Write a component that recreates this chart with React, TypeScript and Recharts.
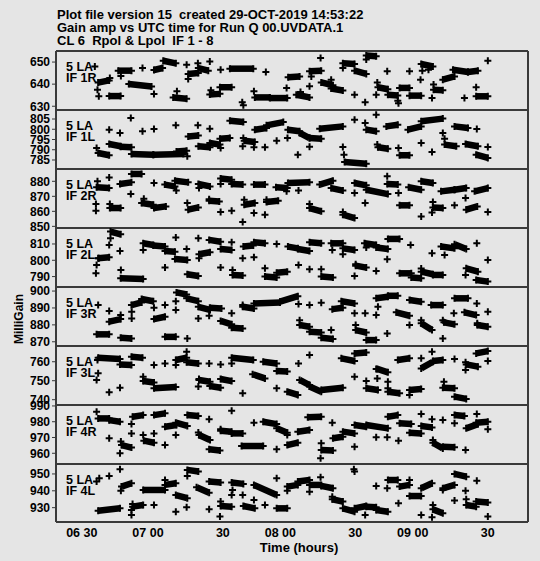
import React from "react"
import { ComposedChart, Line, Scatter, XAxis, YAxis } from "recharts"

// time axis in minutes after 06:00 UTC
const timeTicks = [30, 60, 90, 120, 150, 180, 210]
const timeLabels = ["06 30", "07 00", "30", "08 00", "30", "09 00", "30"]
const antenna = "5 LA"
const titleLines = [
  "Plot file version 15  created 29-OCT-2019 14:53:22",
  "Gain amp vs UTC time for Run Q 00.UVDATA.1",
  "CL 6  Rpol & Lpol  IF 1 - 8",
]

// scans: [tStart, vStart, tEnd, vEnd]; pts: [t, v]
const scans1R = [
  [32.6, 640.7, 37.6, 641.7], [37.6, 634.6, 42.8, 634.6], [41.7, 646.1, 47.7, 646.1],
  [46.5, 640.1, 56.8, 638.9], [57.9, 646.4, 61.8, 647.3], [62.1, 650.6, 67.8, 649.4],
  [66.6, 634.0, 72.7, 633.4], [73.4, 644.6, 78.0, 645.0], [78.0, 647.3, 82.5, 646.1],
  [83.2, 635.3, 87.8, 635.6], [87.8, 638.6, 93.1, 638.6], [92.3, 647.0, 102.9, 647.0],
  [103.6, 634.0, 110.4, 634.0], [110.4, 633.7, 118.3, 633.7], [118.7, 643.1, 123.9, 643.5],
  [122.4, 635.2, 128.4, 634.0], [128.4, 645.8, 133.7, 646.1], [133.7, 640.8, 139.0, 639.5],
  [138.2, 638.0, 143.5, 637.1], [143.5, 649.5, 148.8, 649.1], [148.8, 646.1, 154.1, 644.6],
  [154.1, 653.0, 158.6, 652.6], [159.4, 638.6, 163.9, 637.7], [163.9, 635.2, 168.4, 634.9],
  [169.2, 638.3, 173.7, 638.3], [173.7, 634.8, 179.0, 634.8], [179.0, 649.1, 184.3, 648.0],
  [184.6, 637.5, 188.8, 637.2], [188.8, 642.0, 194.1, 643.5], [193.4, 646.5, 200.2, 645.5],
  [200.2, 645.5, 204.7, 646.1], [203.9, 634.5, 209.2, 634.5],
]
const pts1R = [
  [31.1, 648.0], [37.9, 642.8], [32.3, 637.5], [32.9, 634.5], [42.9, 643.7], [52.7, 647.3],
  [57.9, 635.5], [68.3, 636.8], [72.7, 648.8], [73.4, 642.3], [77.8, 649.5], [83.2, 650.3],
  [83.7, 637.2], [88.1, 646.5], [97.9, 631.8], [98.4, 630.4], [103.2, 636.8], [108.6, 645.5],
  [118.0, 638.3], [124.3, 636.5], [128.4, 639.0], [129.2, 643.5], [133.4, 651.8], [138.2, 642.0],
  [143.5, 647.3], [148.8, 635.2], [153.6, 631.8], [154.1, 651.1], [159.1, 640.8], [158.6, 635.2],
  [163.6, 645.8], [168.4, 632.5], [168.7, 631.3], [173.7, 645.8], [178.7, 642.0], [179.5, 646.1],
  [182.3, 646.5], [183.9, 633.7], [184.6, 639.8], [198.6, 633.7], [203.9, 638.6], [209.2, 650.6],
]

const scans1L = [
  [32.6, 788.4, 37.6, 787.3], [37.6, 792.8, 42.8, 791.7], [42.8, 791.5, 47.7, 791.2],
  [47.7, 787.9, 57.6, 787.6], [57.6, 787.6, 71.2, 787.9], [68.1, 789.2, 72.7, 789.5],
  [73.4, 796.5, 78.0, 797.0], [78.0, 791.7, 83.3, 791.2], [83.2, 793.3, 87.8, 792.5],
  [87.8, 795.4, 92.3, 795.7], [92.3, 804.2, 98.4, 803.5], [98.8, 794.4, 103.6, 793.8],
  [103.6, 799.8, 108.9, 800.6], [108.9, 801.9, 116.5, 803.5], [118.6, 799.8, 123.9, 799.0],
  [123.9, 798.2, 128.4, 795.7], [128.4, 795.7, 133.7, 795.4], [133.0, 800.3, 143.5, 801.4],
  [144.3, 784.0, 154.1, 783.2], [154.1, 799.8, 158.6, 799.0], [159.4, 791.2, 163.9, 790.5],
  [163.2, 801.4, 168.4, 802.2], [169.2, 787.3, 173.7, 787.3], [173.0, 799.8, 179.0, 801.4],
  [179.0, 803.9, 188.8, 805.2], [189.6, 792.5, 194.9, 791.7], [194.1, 801.4, 200.2, 800.6],
  [199.1, 792.8, 204.7, 791.7], [203.9, 787.6, 209.2, 786.0],
]
const pts1L = [
  [31.9, 790.9], [37.6, 799.8], [42.5, 798.2], [47.4, 805.5], [52.7, 799.0], [57.9, 800.1],
  [67.8, 801.9], [73.0, 786.8], [77.8, 801.9], [83.2, 800.3], [88.1, 790.9], [98.4, 795.7],
  [98.1, 791.7], [103.2, 791.2], [108.2, 791.2], [113.5, 794.4], [118.4, 795.7], [123.1, 787.6],
  [128.4, 791.5], [143.5, 791.3], [144.0, 787.6], [148.8, 804.7], [153.6, 803.0], [158.6, 807.1],
  [159.1, 792.5], [168.7, 790.9], [179.0, 793.3], [183.9, 788.9], [188.8, 798.2], [189.6, 795.4],
  [204.2, 800.1], [209.2, 791.3],
]

const scans2R = [
  [31.9, 876.0, 37.6, 875.5], [37.9, 862.2, 42.8, 862.2], [42.5, 878.2, 47.7, 879.3],
  [47.7, 884.9, 52.3, 884.9], [52.3, 865.5, 57.6, 864.4], [57.9, 862.2, 63.3, 863.3],
  [62.8, 877.8, 67.4, 876.6], [67.4, 880.4, 73.4, 879.3], [73.4, 861.1, 78.0, 862.6],
  [78.0, 878.2, 83.3, 876.6], [82.9, 867.1, 87.5, 866.6], [88.1, 881.8, 93.1, 881.1],
  [93.1, 878.2, 98.1, 877.8], [98.8, 864.4, 103.6, 865.5], [103.2, 877.8, 108.2, 877.8],
  [108.9, 866.2, 114.2, 867.1], [113.2, 876.0, 118.3, 875.5], [118.6, 878.9, 128.4, 879.3],
  [128.4, 862.2, 133.7, 860.0], [133.0, 877.8, 139.0, 880.4], [138.2, 875.5, 143.5, 873.8],
  [143.5, 857.8, 148.8, 855.5], [148.8, 878.9, 154.1, 877.3], [154.1, 874.4, 163.9, 871.5],
  [163.6, 878.2, 168.4, 877.8], [169.2, 864.0, 173.7, 864.0], [173.3, 876.0, 179.0, 874.4],
  [179.0, 880.0, 184.3, 878.9], [184.3, 862.6, 188.8, 862.2], [188.0, 873.3, 194.1, 874.4],
  [194.1, 874.4, 199.4, 875.5], [199.4, 861.1, 204.4, 863.3], [203.2, 873.3, 209.2, 875.5],
]
const pts2R = [
  [32.3, 880.0], [37.6, 882.6], [31.6, 864.9], [31.6, 860.4], [37.9, 864.9], [47.4, 871.5],
  [53.3, 868.4], [57.9, 878.9], [68.0, 873.8], [73.0, 865.5], [78.3, 875.5], [82.9, 868.0],
  [88.1, 859.5], [93.1, 860.4], [88.1, 878.2], [98.8, 867.8], [98.1, 852.9], [103.2, 858.9],
  [108.2, 857.8], [108.9, 867.8], [118.0, 873.3], [123.4, 873.8], [128.4, 864.9], [143.5, 859.5],
  [148.8, 872.2], [153.6, 865.5], [163.6, 883.3], [168.7, 872.2], [179.0, 856.6], [184.3, 866.2],
  [183.9, 859.3], [194.1, 864.0], [199.1, 868.9], [209.2, 859.5],
]

const scans2L = [
  [32.6, 801.2, 37.6, 801.8], [38.2, 817.6, 42.8, 815.9], [42.8, 788.9, 53.0, 788.5],
  [53.0, 810.4, 57.6, 809.4], [57.6, 809.0, 62.9, 808.4], [62.9, 805.7, 67.4, 805.3],
  [67.4, 800.8, 73.0, 800.2], [73.0, 791.4, 78.0, 790.4], [78.3, 803.7, 83.3, 804.9],
  [82.9, 812.5, 88.1, 811.4], [88.1, 806.9, 93.1, 806.3], [93.5, 791.0, 98.1, 790.6],
  [98.4, 808.4, 102.9, 809.0], [103.2, 811.0, 108.2, 810.4], [108.2, 790.0, 113.5, 789.4],
  [113.5, 792.4, 118.3, 793.0], [118.6, 808.4, 123.1, 807.3], [123.1, 806.9, 128.4, 805.7],
  [128.4, 811.0, 133.7, 810.4], [133.7, 790.0, 139.0, 789.4], [138.2, 810.4, 143.5, 810.4],
  [143.5, 807.3, 148.8, 806.3], [149.3, 796.7, 154.1, 795.5], [153.3, 810.4, 158.6, 809.4],
  [158.6, 807.8, 163.9, 806.9], [163.9, 813.1, 169.2, 813.1], [169.2, 792.0, 174.5, 792.0],
  [174.5, 789.4, 179.0, 788.9], [179.0, 793.0, 184.3, 791.4], [184.3, 791.0, 188.8, 791.0],
  [188.0, 808.4, 194.1, 807.3], [194.1, 809.8, 199.4, 806.9], [199.4, 795.1, 204.7, 793.0],
  [203.9, 787.9, 209.2, 786.9],
]
const pts2L = [
  [31.6, 792.0], [31.9, 797.1], [32.9, 801.2], [37.6, 809.4], [38.2, 813.5], [42.5, 805.7],
  [42.9, 794.0], [53.0, 806.3], [62.9, 795.5], [67.8, 813.9], [72.7, 806.9], [78.0, 813.5],
  [78.3, 801.2], [88.1, 795.5], [93.1, 811.0], [93.5, 794.0], [98.1, 801.2], [103.2, 801.8],
  [108.2, 795.1], [113.5, 810.0], [123.4, 797.1], [128.4, 794.5], [133.7, 794.5], [138.7, 806.3],
  [143.5, 803.7], [148.8, 790.4], [149.3, 797.5], [154.1, 807.8], [158.6, 793.4], [163.6, 800.6],
  [174.2, 809.4], [179.0, 795.0], [183.9, 804.3], [189.6, 803.3], [204.2, 810.4], [199.1, 791.0],
  [209.2, 800.2],
]

const scans3R = [
  [31.9, 874.4, 37.6, 874.4], [37.6, 881.9, 42.8, 883.4], [42.8, 872.4, 47.7, 872.0],
  [47.7, 891.7, 52.3, 893.3], [52.3, 895.3, 57.6, 894.0], [57.9, 883.4, 62.9, 884.8],
  [62.9, 872.9, 67.8, 872.9], [68.1, 899.2, 72.7, 898.0], [72.7, 895.7, 78.0, 894.0],
  [78.0, 890.7, 83.3, 888.8], [83.2, 890.1, 88.5, 889.7], [88.1, 882.3, 93.1, 880.3],
  [93.1, 878.3, 98.1, 877.9], [98.1, 890.7, 103.2, 889.7], [103.2, 892.7, 115.0, 893.3],
  [115.0, 893.7, 123.1, 897.0], [123.9, 879.9, 128.4, 878.9], [128.4, 875.9, 133.7, 875.5],
  [133.7, 872.4, 139.0, 871.6], [138.7, 889.3, 143.5, 890.1], [142.8, 894.0, 148.8, 892.7],
  [149.3, 876.9, 154.1, 875.5], [154.1, 871.0, 158.6, 871.0], [158.6, 895.7, 163.9, 896.6],
  [163.9, 897.2, 168.4, 897.2], [167.7, 887.4, 173.7, 885.4], [173.7, 894.7, 179.0, 893.7],
  [179.0, 880.9, 183.9, 876.9], [183.5, 891.7, 188.8, 891.7], [189.3, 881.5, 194.1, 880.3],
  [194.1, 895.7, 200.2, 895.7], [198.6, 887.4, 203.9, 885.8], [204.4, 879.9, 209.2, 878.9],
]
const pts3R = [
  [32.6, 891.7], [37.6, 888.2], [42.8, 885.8], [47.8, 883.8], [47.8, 887.8], [57.9, 890.1],
  [62.9, 891.7], [67.8, 894.0], [67.8, 888.8], [73.0, 872.0], [78.0, 883.8], [82.9, 885.4],
  [93.1, 886.8], [98.1, 891.7], [123.4, 892.3], [128.4, 891.7], [133.7, 893.1], [123.9, 882.8],
  [138.2, 876.9], [148.8, 886.8], [153.6, 886.8], [158.6, 885.8], [149.3, 879.9], [159.4, 890.7],
  [163.6, 874.9], [173.7, 879.9], [179.0, 882.8], [188.8, 882.8], [188.8, 872.0], [193.8, 886.8],
  [204.2, 892.7], [204.4, 880.9], [209.2, 887.8],
]

const scans3L = [
  [32.6, 762.1, 42.5, 761.4], [42.5, 758.6, 47.7, 758.3], [47.7, 762.6, 52.7, 762.1],
  [53.0, 749.8, 57.9, 749.1], [57.9, 746.0, 67.8, 746.7], [67.8, 760.9, 72.7, 762.1],
  [72.7, 759.7, 78.0, 759.1], [78.3, 750.4, 83.3, 749.5], [83.2, 747.2, 88.1, 746.3],
  [88.1, 750.9, 93.1, 749.8], [93.1, 762.1, 102.9, 760.9], [102.6, 753.4, 108.2, 751.2],
  [107.4, 760.0, 113.5, 759.1], [113.5, 755.1, 118.3, 754.8], [118.3, 744.2, 123.1, 742.5],
  [123.9, 750.4, 128.4, 747.7], [128.4, 746.9, 133.7, 744.2], [133.7, 745.1, 143.5, 746.3],
  [142.8, 761.8, 148.8, 760.4], [148.8, 764.4, 154.1, 764.9], [154.1, 746.0, 159.4, 745.1],
  [159.1, 756.2, 163.9, 754.4], [163.9, 744.2, 169.2, 743.4], [168.4, 760.9, 173.7, 761.8],
  [173.7, 745.1, 179.0, 745.6], [179.0, 756.5, 184.3, 760.0], [184.3, 760.4, 188.8, 760.9],
  [188.8, 746.3, 194.1, 746.0], [194.1, 741.6, 199.4, 740.4], [199.4, 758.6, 204.7, 757.4],
  [203.9, 764.4, 209.2, 765.6],
]
const pts3L = [
  [32.3, 760.9], [32.6, 753.9], [31.9, 750.4], [37.6, 743.9], [42.5, 746.3], [53.0, 752.1],
  [57.9, 758.3], [62.9, 759.1], [67.8, 758.3], [72.7, 765.3], [78.0, 746.9], [78.3, 750.9],
  [82.9, 759.1], [88.1, 758.6], [93.1, 759.1], [98.1, 743.4], [113.5, 746.0], [123.4, 759.1],
  [128.4, 763.5], [148.8, 752.1], [154.1, 749.8], [159.1, 751.2], [158.6, 756.2], [163.9, 749.5],
  [163.9, 746.0], [173.7, 742.5], [179.0, 761.8], [183.9, 765.3], [189.3, 749.5], [194.1, 761.4],
  [199.1, 755.6], [199.1, 759.7], [209.2, 760.4],
]

const scans4R = [
  [32.6, 982.1, 37.6, 982.1], [37.6, 981.0, 42.5, 980.0], [43.2, 965.2, 47.7, 963.6],
  [48.2, 983.2, 53.0, 984.2], [53.3, 968.0, 57.9, 966.7], [57.9, 984.2, 62.9, 985.3],
  [62.9, 976.8, 68.1, 977.9], [67.8, 979.4, 73.0, 977.3], [73.0, 984.2, 78.0, 983.6],
  [78.3, 971.6, 83.3, 968.4], [82.9, 962.5, 87.8, 961.7], [88.1, 974.3, 93.1, 973.7],
  [93.1, 972.6, 98.1, 972.6], [97.6, 964.6, 107.4, 964.6], [107.4, 980.0, 113.5, 978.5],
  [113.5, 975.8, 118.3, 973.0], [118.3, 965.2, 123.1, 966.7], [123.1, 973.7, 128.4, 974.7],
  [127.6, 982.8, 133.7, 983.2], [133.7, 962.1, 139.0, 961.7], [139.0, 969.5, 143.5, 970.5],
  [143.5, 973.7, 148.8, 972.6], [148.8, 977.9, 154.1, 976.8], [154.1, 977.9, 163.9, 975.8],
  [163.9, 983.2, 168.4, 984.2], [169.2, 979.0, 174.5, 978.5], [173.7, 973.0, 179.0, 972.6],
  [179.0, 977.3, 183.9, 976.4], [184.3, 966.7, 188.8, 963.1], [188.8, 964.2, 194.1, 963.8],
  [194.1, 984.2, 198.6, 983.6], [199.4, 975.8, 204.7, 978.5], [203.9, 979.4, 209.2, 980.0],
]
const pts4R = [
  [31.9, 986.3], [37.6, 969.5], [42.5, 960.0], [42.9, 967.4], [47.7, 972.6], [47.7, 978.5],
  [53.0, 971.6], [57.9, 972.6], [62.9, 965.2], [67.8, 971.6], [82.9, 981.5], [78.0, 973.2],
  [93.1, 987.0], [88.1, 975.2], [103.2, 979.4], [113.5, 962.5], [118.3, 971.6], [133.7, 966.3],
  [133.4, 956.8], [138.7, 979.4], [148.8, 964.2], [158.6, 970.1], [163.6, 970.1], [168.7, 968.0],
  [179.0, 984.9], [183.9, 981.5], [188.8, 981.1], [184.3, 968.4], [194.1, 979.0], [199.1, 962.1],
  [204.2, 984.9], [209.2, 975.2],
]

const scans4L = [
  [32.6, 928.2, 42.5, 929.6], [43.2, 942.5, 47.7, 944.5], [48.2, 930.6, 53.0, 931.6],
  [53.0, 940.5, 62.9, 940.5], [62.9, 943.5, 67.8, 944.5], [67.8, 937.5, 73.0, 935.6],
  [73.0, 952.4, 78.0, 951.4], [77.2, 942.1, 82.9, 938.9], [82.9, 945.5, 88.1, 944.9],
  [88.1, 931.0, 93.1, 930.6], [93.1, 944.9, 98.4, 944.1], [98.4, 931.0, 103.6, 929.6],
  [103.2, 943.5, 113.5, 937.5], [113.5, 929.6, 118.3, 929.6], [118.3, 942.5, 123.1, 943.5],
  [123.1, 945.5, 128.4, 946.4], [128.4, 943.5, 133.7, 943.5], [133.7, 942.9, 139.0, 941.5],
  [138.7, 935.0, 143.5, 933.6], [143.5, 929.6, 148.8, 927.6], [148.8, 929.6, 154.1, 931.0],
  [154.1, 930.6, 158.6, 930.2], [158.6, 928.6, 163.9, 927.6], [163.9, 946.4, 168.4, 946.4],
  [169.2, 942.5, 173.7, 943.5], [173.7, 936.9, 179.0, 936.9], [179.0, 941.5, 183.9, 944.5],
  [184.3, 929.0, 188.8, 926.7], [188.8, 941.5, 194.1, 943.5], [194.1, 950.0, 199.4, 948.4],
  [199.4, 931.6, 203.9, 930.6], [203.9, 933.6, 209.2, 933.0],
]
const pts4L = [
  [31.9, 945.5], [33.1, 947.4], [37.6, 948.8], [42.5, 952.8], [42.9, 940.1], [47.7, 928.6],
  [47.7, 925.7], [48.2, 932.2], [57.9, 931.6], [62.9, 946.4], [67.8, 927.6], [72.7, 930.2],
  [73.0, 948.8], [82.9, 929.0], [87.8, 924.7], [88.1, 933.6], [93.1, 937.5], [93.5, 940.5],
  [98.1, 937.5], [103.2, 934.5], [108.2, 931.6], [113.5, 947.4], [118.3, 940.1], [128.4, 939.5],
  [133.4, 948.0], [138.7, 936.5], [148.8, 951.4], [148.5, 952.8], [153.6, 925.7], [158.6, 942.9],
  [163.6, 941.5], [168.7, 932.6], [173.7, 946.4], [179.0, 925.7], [183.9, 924.3], [184.3, 931.6],
  [188.8, 940.5], [194.1, 934.2], [199.1, 940.1], [199.4, 935.0], [204.2, 946.0], [209.2, 924.7],
]

const panels = [
  { name: "IF 1R", domain: [628.3, 655.0], ticks: [630, 640, 650], scans: scans1R, pts: pts1R },
  { name: "IF 1L", domain: [780.6, 809.4], ticks: [785, 790, 795, 800, 805], scans: scans1L, pts: pts1L },
  { name: "IF 2R", domain: [848.9, 888.2], ticks: [850, 860, 870, 880], scans: scans2R, pts: pts2R },
  { name: "IF 2L", domain: [783.6, 819.8], ticks: [790, 800, 810], scans: scans2L, pts: pts2L },
  { name: "IF 3R", domain: [867.5, 902.4], ticks: [870, 880, 890, 900], scans: scans3R, pts: pts3R },
  { name: "IF 3L", domain: [737.2, 768.3], ticks: [740, 750, 760], scans: scans3L, pts: pts3L },
  { name: "IF 4R", domain: [953.2, 990.6], ticks: [960, 970, 980, 990], scans: scans4R, pts: pts4R },
  { name: "IF 4L", domain: [921.5, 955.9], ticks: [930, 940, 950], scans: scans4L, pts: pts4L },
]

const PANEL_TOPS = [51, 110, 169, 228, 287, 346, 405, 464, 522]
const X_DOMAIN = [13.5, 227.4]
const FRAME = "#3a3a3a"
const BG = "#e5e5e5"
const FONT = "'Liberation Sans', Arial, Helvetica, sans-serif"

const Plus = (props: any) => {
  const { cx, cy } = props
  if (cx == null || cy == null) return null
  return (
    <path
      d={`M${cx - 3.5},${cy}h7M${cx},${cy - 3.5}v7`}
      stroke="#000"
      strokeWidth={2}
      fill="none"
    />
  )
}

const TimeTick = (props: any) => {
  const { x, y, payload } = props
  const idx = timeTicks.indexOf(payload.value)
  return (
    <text
      x={x + 5}
      y={y}
      dy="0.71em"
      textAnchor="end"
      fontSize={12.5}
      fontWeight="bold"
      fontFamily={FONT}
      fill="#000"
    >
      {timeLabels[idx]}
    </text>
  )
}

function Panel({ i }: { i: number }) {
  const p = panels[i]
  const top = PANEL_TOPS[i]
  const h = PANEL_TOPS[i + 1] - top
  const last = i === panels.length - 1
  const pad = 9
  const labelH = last ? 30 : 0
  const segs = p.scans.map((s) => [
    { t: s[0], v: s[1] },
    { t: s[2], v: s[3] },
  ])
  const points = p.pts.map((q) => ({ t: q[0], v: q[1] }))

  return (
    <div style={{ position: "absolute", left: 0, top: top - pad }}>
      <ComposedChart
        width={540}
        height={h + 2 * pad + labelH}
        margin={{ top: pad, right: 12, bottom: pad, left: 0 }}
      >
        <XAxis
          xAxisId="top"
          orientation="top"
          mirror
          type="number"
          dataKey="t"
          domain={X_DOMAIN}
          allowDataOverflow
          ticks={timeTicks}
          interval={0}
          tick={false}
          tickSize={5}
          stroke={FRAME}
          axisLine={{ strokeWidth: 2 }}
        />
        <XAxis
          xAxisId="bot"
          orientation="bottom"
          mirror
          type="number"
          dataKey="t"
          domain={X_DOMAIN}
          allowDataOverflow
          ticks={timeTicks}
          interval={0}
          tick={false}
          tickSize={5}
          stroke={FRAME}
          axisLine={{ strokeWidth: 2 }}
        />
        {last && (
          <XAxis
            xAxisId="lab"
            orientation="bottom"
            type="number"
            dataKey="t"
            domain={X_DOMAIN}
            allowDataOverflow
            ticks={timeTicks}
            interval={0}
            height={labelH}
            axisLine={false}
            tickLine={false}
            tickSize={0}
            tickMargin={6}
            tick={<TimeTick />}
          />
        )}
        <YAxis
          yAxisId="l"
          width={56}
          type="number"
          domain={p.domain}
          allowDataOverflow
          ticks={p.ticks}
          interval={0}
          tickSize={4}
          tickMargin={2}
          stroke={FRAME}
          axisLine={{ strokeWidth: 2 }}
          tick={{ fill: "#000", fontSize: 12, fontWeight: "bold", fontFamily: FONT }}
        />
        <YAxis
          yAxisId="r"
          orientation="right"
          mirror
          type="number"
          domain={p.domain}
          allowDataOverflow
          ticks={p.ticks}
          interval={0}
          tick={false}
          tickSize={7}
          stroke={FRAME}
          axisLine={{ strokeWidth: 2 }}
        />
        {segs.map((d, k) => (
          <Line
            key={k}
            xAxisId="top"
            yAxisId="l"
            data={d}
            dataKey="v"
            stroke="#000"
            strokeWidth={6.5}
            dot={<Plus />}
            activeDot={false}
            isAnimationActive={false}
          />
        ))}
        <Scatter
          xAxisId="top"
          yAxisId="l"
          data={points}
          dataKey="v"
          shape={<Plus />}
          isAnimationActive={false}
        />
      </ComposedChart>
      <div
        style={{
          position: "absolute",
          left: 66,
          top: pad + 10.7,
          fontSize: 12.5,
          lineHeight: "11.3px",
          fontWeight: "bold",
          fontFamily: FONT,
          color: "#000",
          whiteSpace: "pre",
        }}
      >
        {antenna}
        <br />
        {p.name}
      </div>
    </div>
  )
}

export default function App() {
  return (
    <div
      style={{
        position: "relative",
        width: 540,
        height: 561,
        background: BG,
        overflow: "hidden",
        fontFamily: FONT,
      }}
    >
      <style>{"body{margin:0}"}</style>
      <div
        style={{
          position: "absolute",
          left: 57,
          top: 9.3,
          fontSize: 13,
          lineHeight: "12.7px",
          fontWeight: "bold",
          whiteSpace: "pre",
          color: "#000",
        }}
      >
        {titleLines.map((l) => (
          <div key={l}>{l}</div>
        ))}
      </div>
      {panels.map((_, i) => (
        <Panel key={i} i={i} />
      ))}
      <div
        style={{
          position: "absolute",
          left: 19,
          top: 319,
          transform: "translate(-50%, -50%) rotate(-90deg)",
          fontSize: 12,
          fontWeight: "bold",
          whiteSpace: "nowrap",
          color: "#000",
        }}
      >
        MilliGain
      </div>
      <div
        style={{
          position: "absolute",
          left: 299,
          top: 541,
          transform: "translateX(-50%)",
          fontSize: 13,
          lineHeight: "13px",
          fontWeight: "bold",
          whiteSpace: "nowrap",
          color: "#000",
        }}
      >
        Time (hours)
      </div>
    </div>
  )
}
